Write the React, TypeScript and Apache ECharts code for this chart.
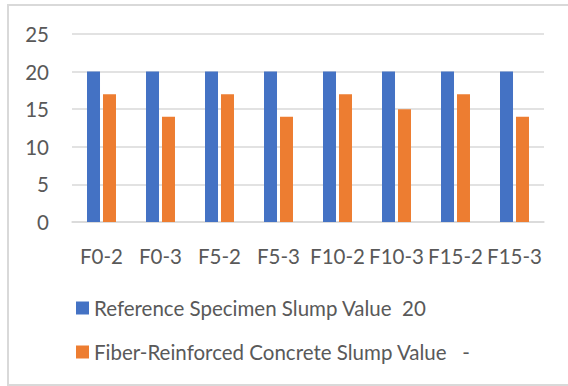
import React, { useEffect, useRef } from "react";
import * as echarts from "echarts";

const categories = ["F0-2", "F0-3", "F5-2", "F5-3", "F10-2", "F10-3", "F15-2", "F15-3"];
const referenceValues = [20, 20, 20, 20, 20, 20, 20, 20];
const fiberValues = [17, 14, 17, 14, 17, 15, 17, 14];
const seriesNames = ["Reference Specimen Slump Value  20", "Fiber-Reinforced Concrete Slump Value   -"];
const yTicks = { min: 0, max: 25, interval: 5 };

export default function App() {
  const ref = useRef<HTMLDivElement>(null);
  useEffect(() => {
    if (!ref.current) return;
    const chart = echarts.init(ref.current, null, { renderer: "svg" });
    const font = "Lato, 'Open Sans', sans-serif";
    const fs = 20.5;
    chart.setOption({
      animation: false,
      backgroundColor: "#ffffff",
      textStyle: { fontFamily: font },
      graphic: [
        {
          type: "polyline",
          shape: { points: [[568, 5], [8, 5], [8, 385], [568, 385]] },
          style: { fill: "none", stroke: "#d9d9d9", lineWidth: 2 },
          silent: true,
        },
      ],
      grid: { left: 72, right: 24, top: 34, bottom: 164, containLabel: false },
      xAxis: {
        type: "category",
        data: categories,
        axisLine: { show: true, lineStyle: { color: "#d9d9d9", width: 1.5 } },
        axisTick: { show: false },
        axisLabel: { color: "#595959", fontSize: fs, fontFamily: font, margin: 23, interval: 0 },
      },
      yAxis: {
        type: "value",
        min: yTicks.min,
        max: yTicks.max,
        interval: yTicks.interval,
        axisLine: { show: false },
        axisTick: { show: false },
        axisLabel: { color: "#595959", fontSize: fs, fontFamily: font, margin: 23 },
        splitLine: { lineStyle: { color: "#d9d9d9", width: 1.5 } },
      },
      legend: {
        orient: "vertical",
        left: 76,
        top: 297,
        padding: 0,
        itemWidth: 13,
        itemHeight: 13,
        itemGap: 22,
        icon: "rect",
        textStyle: { color: "#595959", fontSize: fs, fontFamily: font, lineHeight: 22 },
        data: seriesNames,
      },
      series: [
        {
          name: seriesNames[0],
          type: "bar",
          data: referenceValues,
          barWidth: 13,
          barGap: "23%",
          itemStyle: { color: "#4472C4" },
        },
        {
          name: seriesNames[1],
          type: "bar",
          data: fiberValues,
          barWidth: 13,
          barGap: "23%",
          itemStyle: { color: "#ED7D31" },
        },
      ],
    });
    return () => chart.dispose();
  }, []);
  return (
    <div
      ref={ref}
      style={{ position: "absolute", left: 0, top: 0, width: 568, height: 386 }}
    />
  );
}
